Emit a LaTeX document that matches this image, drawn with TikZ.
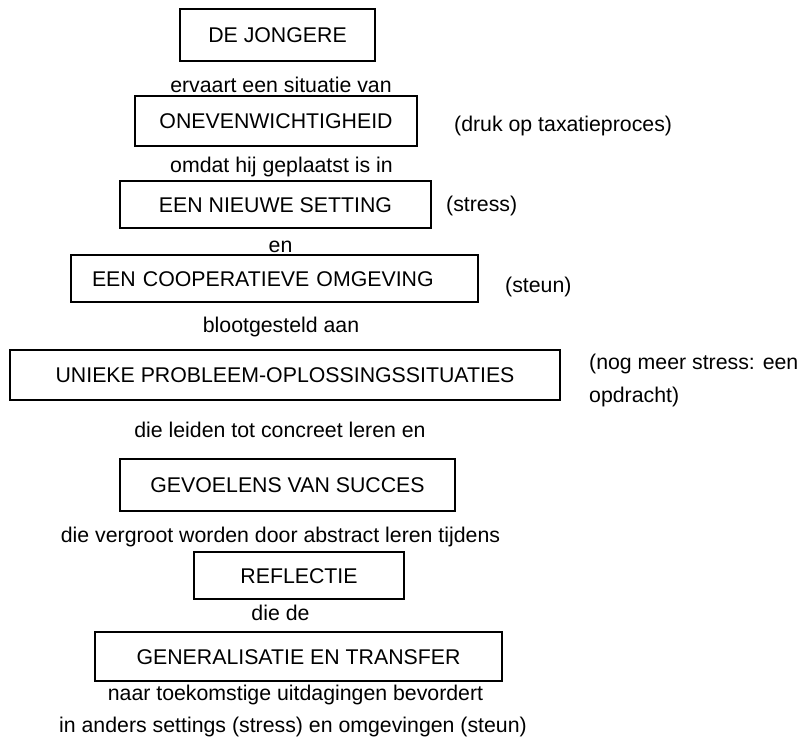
\documentclass[tikz,border=0pt]{standalone}
\usepackage{fontspec}
\setmainfont{Liberation Sans}
\begin{document}
\begin{tikzpicture}[x=1pt,y=-1pt,
  every node/.style={font=\fontsize{21.3}{25}\selectfont, text height=15.25pt, text depth=0pt, inner sep=0pt},
  box/.style={draw, line width=1.8pt, inner sep=0pt},
  lbl/.style={anchor=center},
  side/.style={anchor=west}]
\useasboundingbox (0,0) rectangle (797,744);
% boxes
\node[box, minimum width=195pt, minimum height=52pt] (b1) at (277.5,35) {DE JONGERE};
\node[box, minimum width=282pt, minimum height=50pt] (b2) at (276,121) {ONEVENWICHTIGHEID};
\node[box, minimum width=311pt, minimum height=47pt] (b3) at (275.5,204.5) {EEN NIEUWE SETTING};
\node[box, minimum width=407pt, minimum height=47pt, inner xsep=21pt, text width=365pt, align=left] (b4) at (274.5,278.5) {EEN COOPERATIEVE OMGEVING};
\node[box, minimum width=550pt, minimum height=50pt] (b5) at (285,375) {UNIEKE PROBLEEM-OPLOSSINGSSITUATIES};
\node[box, minimum width=335pt, minimum height=52pt] (b6) at (287.5,485) {GEVOELENS VAN SUCCES};
\node[box, minimum width=210pt, minimum height=47pt] (b7) at (299,575.5) {REFLECTIE};
\node[box, minimum width=407pt, minimum height=49pt] (b8) at (298.5,656.5) {GENERALISATIE EN TRANSFER};
% connecting phrases
\node[lbl] (t1) at (281,85) {ervaart een situatie van};
\node[lbl] (t2) at (281.5,165) {omdat hij geplaatst is in};
\node[lbl] (t3) at (280.5,245) {en};
\node[lbl] (t4) at (281,325) {blootgesteld aan};
\node[lbl] (t5) at (280,430) {die leiden tot concreet leren en};
\node[lbl] (t6) at (280.5,535) {die vergroot worden door abstract leren tijdens};
\node[lbl] (t7) at (280.5,613) {die de};
\node[lbl] (t8) at (295.5,693) {naar toekomstige uitdagingen bevordert};
\node[lbl] (t9) at (293,725) {in anders settings (stress) en omgevingen (steun)};
% side notes
\node[side] (s1) at (454,124) {(druk op taxatieproces)};
\node[side] (s2) at (446,204) {(stress)};
\node[side] (s3) at (505,285) {(steun)};
\node[side] (s4) at (589,362) {(nog meer stress: een};
\node[side] (s5) at (589,395) {opdracht)};
\end{tikzpicture}
\end{document}
